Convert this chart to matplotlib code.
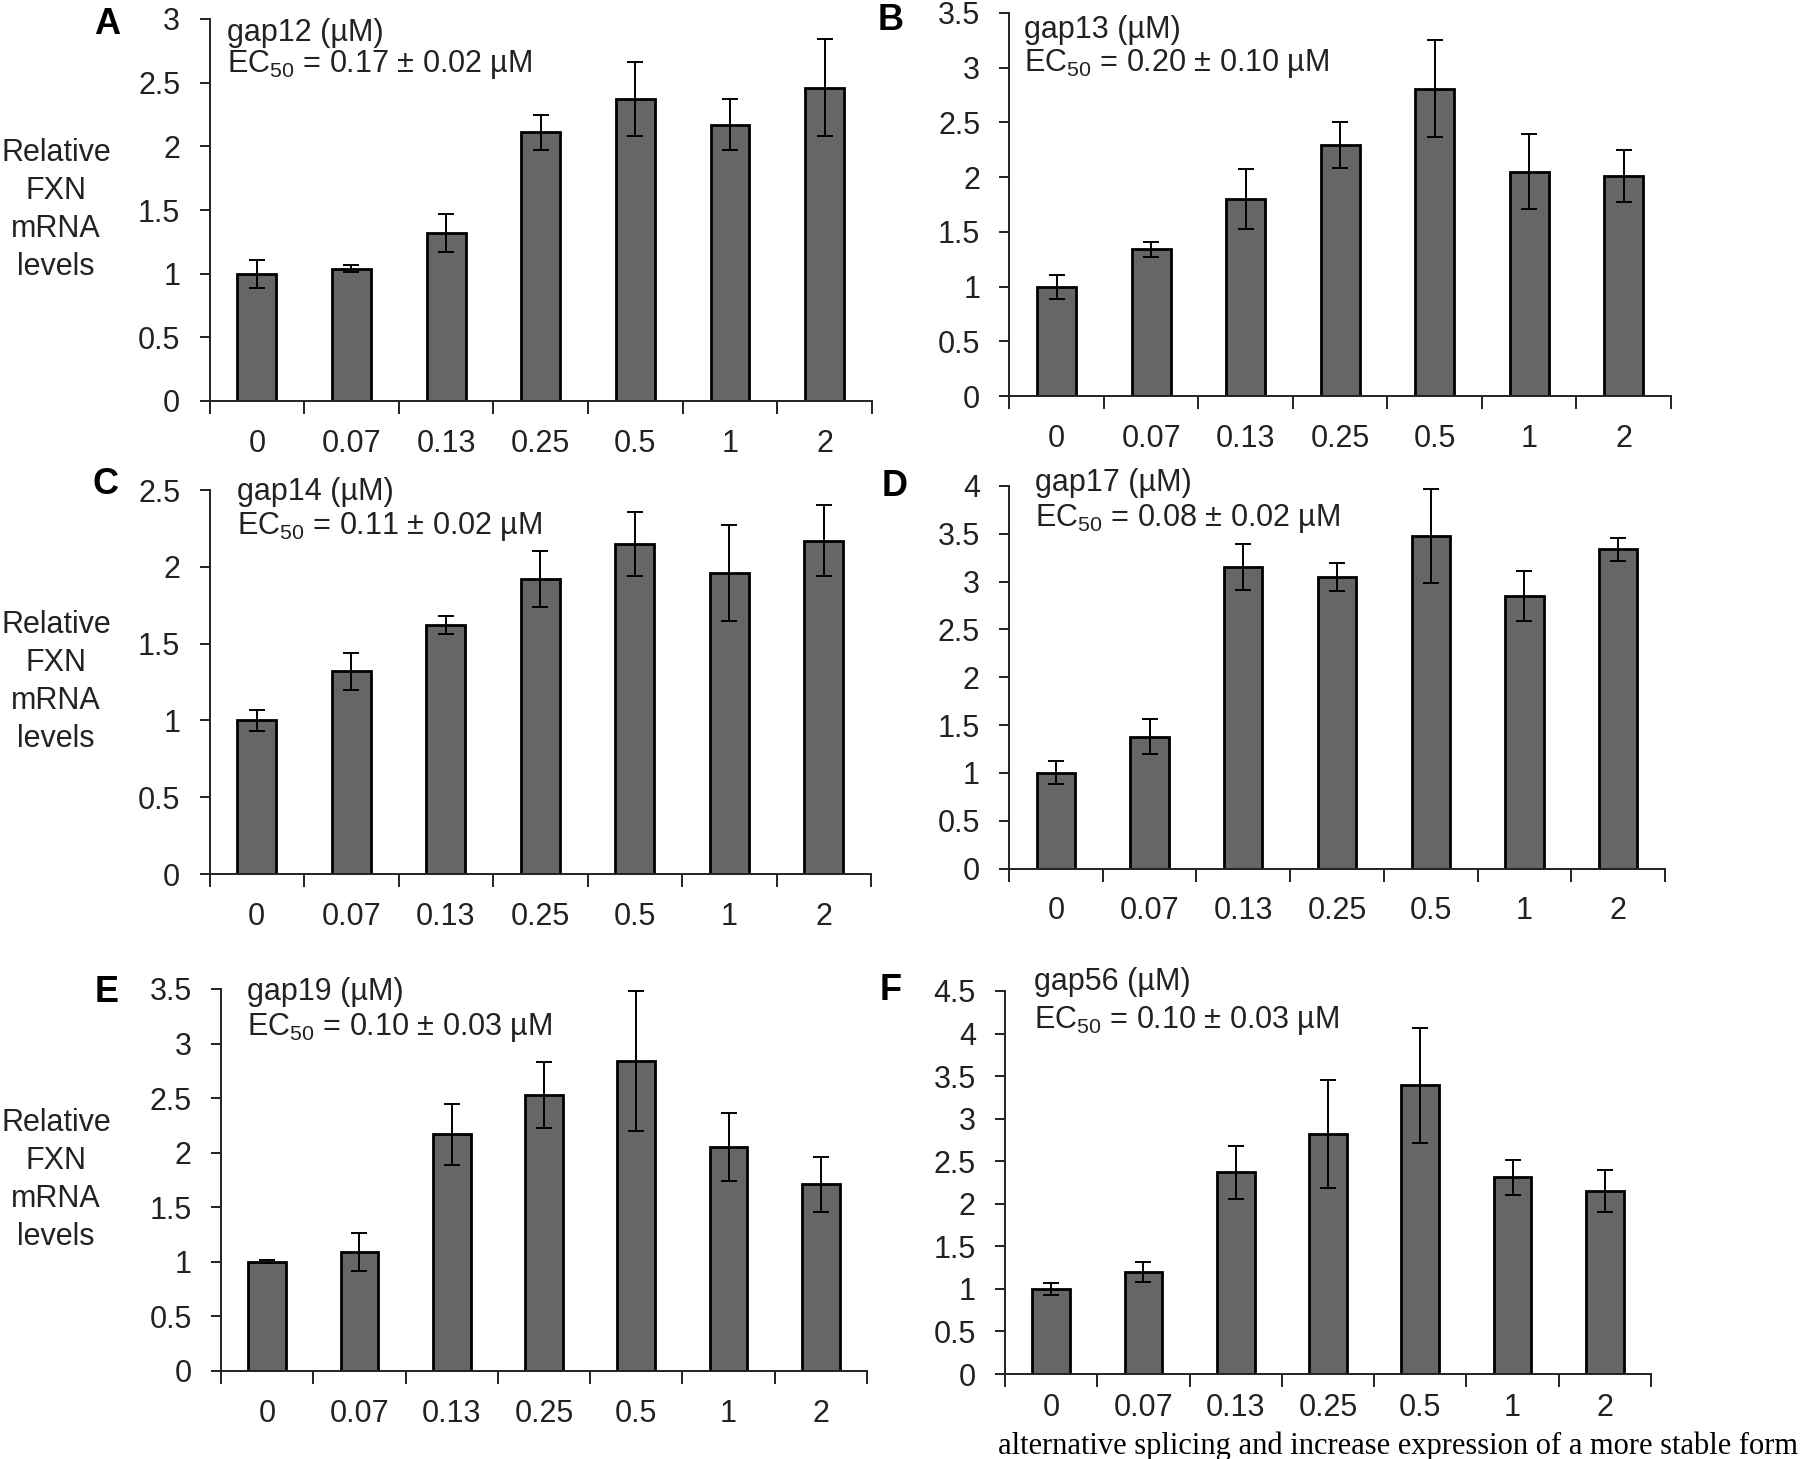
import matplotlib
matplotlib.use("Agg")
import matplotlib.pyplot as plt
from matplotlib.ticker import FixedLocator, NullFormatter, FixedFormatter

plt.rcParams['font.family'] = ['Liberation Sans', 'DejaVu Sans']
plt.rcParams['mathtext.default'] = 'regular'

# concentrations (uM) on the x axis
conc_labels = ['0', '0.07', '0.13', '0.25', '0.5', '1', '2']

# relative FXN mRNA levels, mean and error
gap12_mean = [1.00, 1.04, 1.32, 2.11, 2.37, 2.17, 2.46]
gap12_err = [0.11, 0.03, 0.15, 0.14, 0.29, 0.20, 0.38]
gap13_mean = [1.00, 1.34, 1.80, 2.29, 2.81, 2.05, 2.01]
gap13_err = [0.11, 0.07, 0.27, 0.21, 0.44, 0.34, 0.24]
gap14_mean = [1.00, 1.32, 1.62, 1.92, 2.15, 1.96, 2.17]
gap14_err = [0.07, 0.12, 0.06, 0.18, 0.21, 0.31, 0.23]
gap17_mean = [1.00, 1.38, 3.15, 3.05, 3.48, 2.85, 3.34]
gap17_err = [0.12, 0.18, 0.24, 0.15, 0.49, 0.26, 0.12]
gap19_mean = [1.00, 1.09, 2.17, 2.53, 2.84, 2.05, 1.71]
gap19_err = [0.015, 0.17, 0.28, 0.30, 0.64, 0.31, 0.25]
gap56_mean = [1.00, 1.20, 2.37, 2.82, 3.39, 2.31, 2.15]
gap56_err = [0.07, 0.12, 0.31, 0.64, 0.68, 0.21, 0.25]

compounds = ['gap12', 'gap13', 'gap14', 'gap17', 'gap19', 'gap56']
ec50 = ['0.17 ± 0.02', '0.20 ± 0.10', '0.11 ± 0.02', '0.08 ± 0.02',
        '0.10 ± 0.03', '0.10 ± 0.03']
ymax = [3, 3.5, 2.5, 4, 3.5, 4.5]
letters = ['A', 'B', 'C', 'D', 'E', 'F']
means = [gap12_mean, gap13_mean, gap14_mean, gap17_mean, gap19_mean, gap56_mean]
errs = [gap12_err, gap13_err, gap14_err, gap17_err, gap19_err, gap56_err]

W, H = 1803, 1459
fig = plt.figure(figsize=(W / 100, H / 100), dpi=100)

# axes boxes in pixels: left, width, bottom (from top), height
boxes = [(209.5, 662.5, 401, 382), (1009.4, 661.6, 396, 383),
         (209.5, 661.5, 874, 384), (1009, 656, 868.5, 382.5),
         (221, 646, 1371, 382), (1005, 646, 1374, 383)]
# annotation text positions (axes fraction): x, y of first line, y of second
notes = [(0.026, 0.963, 0.880), (0.022, 0.956, 0.869), (0.042, 0.995, 0.904),
         (0.040, 1.008, 0.916), (0.040, 0.992, 0.898), (0.045, 1.023, 0.924)]
letter_pos = [(107, 25), (891, 20), (106, 485), (895, 487), (107, 992), (891, 991)]
xpads = [20, 20, 20, 20, 20, 14]

fs = 22
for i in range(6):
    l, w, b, h = boxes[i]
    ax = fig.add_axes([l / W, 1 - b / H, w / W, h / H])
    x = range(len(conc_labels))
    ax.bar(x, means[i], width=0.41, color='#666666', edgecolor='black',
           linewidth=2, zorder=2)
    ax.errorbar(x, means[i], yerr=errs[i], fmt='none', ecolor='black',
                elinewidth=1.4, capsize=6, capthick=1.4, zorder=3)
    ax.set_xlim(-0.5, 6.5)
    ax.set_ylim(0, ymax[i])
    ax.spines['top'].set_visible(False)
    ax.spines['right'].set_visible(False)
    for s in ('left', 'bottom'):
        ax.spines[s].set_linewidth(1.4)
        ax.spines[s].set_color('#222222')

    yt = [k * 0.5 for k in range(int(ymax[i] / 0.5) + 1)]
    ax.set_yticks(yt)
    ax.set_yticklabels(['%g' % v for v in yt])
    ax.tick_params(axis='y', direction='out', length=7, width=1.4,
                   pad=14, labelsize=fs, colors='#222222')

    ax.xaxis.set_major_locator(FixedLocator([k - 0.5 for k in range(8)]))
    ax.xaxis.set_major_formatter(NullFormatter())
    ax.xaxis.set_minor_locator(FixedLocator(list(x)))
    ax.xaxis.set_minor_formatter(FixedFormatter(conc_labels))
    ax.tick_params(axis='x', which='major', direction='out', length=9,
                   width=1.4, color='#222222')
    ax.tick_params(axis='x', which='minor', length=0, pad=xpads[i],
                   labelsize=fs, labelcolor='#222222')

    nx, ny1, ny2 = notes[i]
    ax.text(nx, ny1, compounds[i] + ' (µM)', transform=ax.transAxes,
            fontsize=fs, va='center', ha='left', color='#222222')
    ax.text(nx, ny2, 'EC$_{50}$ = ' + ec50[i] + ' µM', transform=ax.transAxes,
            fontsize=fs, va='center', ha='left', color='#222222')

    if i % 2 == 0:
        ax.text((56 - l) / w, 0.5, 'Relative\nFXN\nmRNA\nlevels',
                transform=ax.transAxes, fontsize=fs, ha='center',
                va='center', linespacing=1.35, color='#222222')

    lx, ly = letter_pos[i]
    fig.text(lx / W, 1 - ly / H, letters[i], fontsize=26, fontweight='bold',
             ha='center', va='center')

fig.text(1798 / W, 1 - 1446 / H,
         'alternative splicing and increase expression of a more stable form',
         family='Liberation Serif', fontsize=22, ha='right', va='center')

fig.savefig('out.png', dpi=100)
